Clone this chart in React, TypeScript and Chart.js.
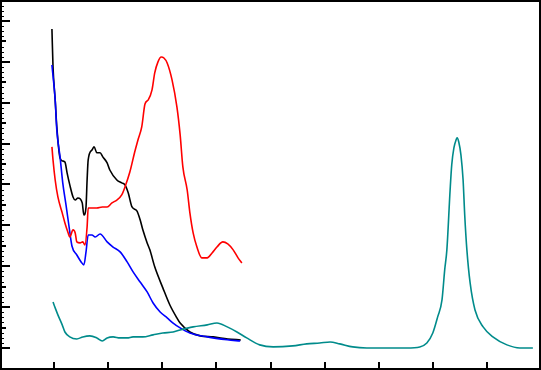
import React, { useEffect, useRef } from "react";
import { Chart, registerables } from "chart.js";

Chart.register(...registerables);

// Wavelength (nm) axis and absorbance axis
const xMin = 200;
const xMax = 1200;
const yMin = -0.108;
const yMax = 1.703;
const xTicks = [300, 400, 500, 600, 700, 800, 900, 1000, 1100];
const yTicks = [0, 0.1, 0.2, 0.3, 0.4, 0.5, 0.6, 0.7, 0.8, 0.9, 1.0, 1.1, 1.2, 1.3, 1.4, 1.5, 1.6];

const blackX = [296, 298, 302, 305, 311, 316, 320, 324, 329, 335, 339, 344, 352, 355, 359, 361, 363, 370, 374, 379, 385, 390, 398, 403, 416, 425, 431, 437, 444, 453, 459, 464, 472, 477, 486, 501, 514, 527, 533, 551, 570, 594, 621, 645];
const blackY = [1.561, 1.375, 1.214, 1.082, 0.930, 0.915, 0.910, 0.857, 0.798, 0.739, 0.724, 0.734, 0.710, 0.651, 0.690, 0.822, 0.920, 0.969, 0.984, 0.955, 0.955, 0.935, 0.906, 0.871, 0.822, 0.808, 0.798, 0.759, 0.690, 0.671, 0.627, 0.578, 0.514, 0.480, 0.397, 0.294, 0.210, 0.147, 0.122, 0.078, 0.059, 0.054, 0.044, 0.039];

const blueX = [296, 302, 305, 311, 316, 322, 328, 333, 342, 350, 355, 359, 363, 370, 376, 385, 398, 409, 422, 435, 446, 459, 472, 483, 496, 509, 520, 533, 551, 583, 620, 644];
const blueY = [1.385, 1.214, 1.067, 0.935, 0.808, 0.700, 0.587, 0.499, 0.455, 0.421, 0.406, 0.470, 0.553, 0.553, 0.543, 0.558, 0.519, 0.494, 0.470, 0.421, 0.372, 0.323, 0.274, 0.220, 0.176, 0.147, 0.122, 0.098, 0.073, 0.054, 0.040, 0.034];

const redX = [296, 298, 302, 307, 315, 320, 326, 329, 335, 339, 342, 348, 353, 357, 361, 363, 370, 379, 389, 398, 407, 416, 425, 431, 440, 449, 455, 462, 468, 474, 481, 486, 492, 498, 503, 509, 518, 527, 533, 538, 546, 551, 557, 564, 573, 583, 592, 601, 612, 621, 631, 640, 647];
const redY = [0.984, 0.920, 0.822, 0.739, 0.661, 0.612, 0.563, 0.543, 0.578, 0.563, 0.519, 0.514, 0.519, 0.504, 0.592, 0.685, 0.685, 0.685, 0.690, 0.690, 0.710, 0.724, 0.749, 0.788, 0.861, 0.959, 1.018, 1.082, 1.194, 1.214, 1.263, 1.346, 1.400, 1.424, 1.419, 1.395, 1.312, 1.180, 1.043, 0.886, 0.773, 0.661, 0.563, 0.494, 0.441, 0.441, 0.465, 0.494, 0.519, 0.509, 0.480, 0.441, 0.416];

const tealX = [298, 302, 307, 315, 320, 329, 342, 353, 366, 379, 389, 398, 409, 422, 435, 446, 464, 483, 501, 520, 533, 557, 583, 601, 620, 638, 656, 680, 705, 741, 767, 791, 810, 828, 852, 878, 915, 952, 976, 989, 1000, 1009, 1017, 1022, 1026, 1032, 1035, 1039, 1043, 1045, 1048, 1052, 1056, 1059, 1063, 1069, 1078, 1093, 1111, 1137, 1161, 1185];
const tealY = [0.225, 0.196, 0.162, 0.113, 0.078, 0.054, 0.044, 0.054, 0.059, 0.049, 0.034, 0.049, 0.054, 0.049, 0.049, 0.054, 0.054, 0.064, 0.073, 0.078, 0.088, 0.103, 0.113, 0.122, 0.103, 0.078, 0.049, 0.015, 0.005, 0.010, 0.020, 0.024, 0.029, 0.020, 0.005, 0.000, 0.000, 0.000, 0.005, 0.024, 0.073, 0.152, 0.235, 0.382, 0.480, 0.773, 0.896, 0.979, 1.018, 1.028, 1.008, 0.945, 0.822, 0.651, 0.480, 0.318, 0.186, 0.103, 0.054, 0.015, 0.000, 0.000];

const toPoints = (xs: number[], ys: number[]) => xs.map((x, i) => ({ x, y: ys[i] }));

const frameTicks = {
  id: "frameTicks",
  afterDraw(chart: any) {
    const { ctx, scales } = chart;
    const W = chart.width;
    const H = chart.height;
    ctx.save();
    ctx.fillStyle = "#000";
    // minor-minor dots on left
    for (let v = 0; v <= 1.7; v += 0.025) {
      const py = Math.round(scales.y.getPixelForValue(v));
      if (py > 2 && py < H - 2) ctx.fillRect(2, py, 2, 1);
    }
    yTicks.forEach((v, i) => {
      const py = Math.round(scales.y.getPixelForValue(v));
      const len = i % 2 === 0 ? 8 : 4;
      ctx.fillRect(2, py - 1, len, 2);
    });
    xTicks.forEach((v) => {
      const px = Math.round(scales.x.getPixelForValue(v));
      ctx.fillRect(px - 1, H - 8, 2, 6);
    });
    ctx.strokeStyle = "#000";
    ctx.lineWidth = 2;
    ctx.strokeRect(1, 1, W - 2, H - 2);
    ctx.restore();
  },
};

export default function App() {
  const ref = useRef<HTMLCanvasElement | null>(null);
  useEffect(() => {
    if (!ref.current) return;
    const mk = (xs: number[], ys: number[], color: string) => ({
      data: toPoints(xs, ys),
      borderColor: color,
      borderWidth: 1.6,
      pointRadius: 0,
      fill: false,
      cubicInterpolationMode: "monotone" as const,
    });
    const chart = new Chart(ref.current, {
      type: "line",
      data: {
        datasets: [
          mk(tealX, tealY, "#008b8b"),
          mk(redX, redY, "#ff0000"),
          mk(blueX, blueY, "#0000ff"),
          mk(blackX, blackY, "#000000"),
        ],
      },
      options: {
        animation: false,
        responsive: false,
        layout: { padding: 0 },
        plugins: { legend: { display: false }, tooltip: { enabled: false } },
        scales: {
          x: { type: "linear", min: xMin, max: xMax, display: false },
          y: { type: "linear", min: yMin, max: yMax, display: false },
        },
      },
      plugins: [frameTicks],
    });
    return () => chart.destroy();
  }, []);
  return (
    <div style={{ position: "fixed", left: 0, top: 0, width: 541, height: 370, background: "#fff" }}>
      <canvas ref={ref} width={541} height={370} style={{ display: "block" }} />
    </div>
  );
}
